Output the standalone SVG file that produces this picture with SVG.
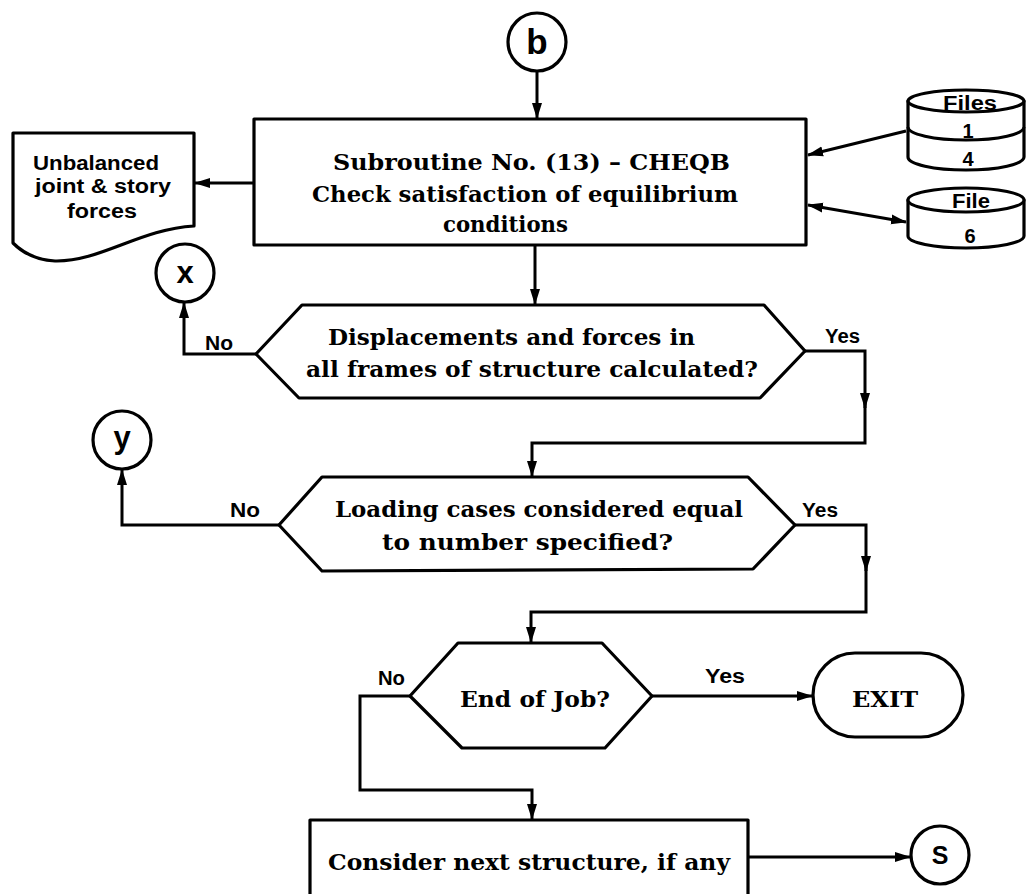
<svg xmlns="http://www.w3.org/2000/svg" width="1026" height="894" viewBox="0 0 1026 894">
<defs>
<style>
.shape{fill:#fff;stroke:#000;stroke-width:3.2;stroke-linejoin:round}
.line{fill:none;stroke:#000;stroke-width:3;stroke-linejoin:miter}
.t{font-family:"DejaVu Serif","Liberation Serif",serif;font-weight:bold;font-size:23px;fill:#000}
.s{font-family:"Liberation Sans","DejaVu Sans",sans-serif;font-weight:bold;font-size:20px;fill:#000}
.c{font-family:"Liberation Sans","DejaVu Sans",sans-serif;font-weight:bold;fill:#000;text-anchor:middle}
</style>
<marker id="ah" viewBox="0 0 16 12" refX="15" refY="6" markerWidth="16" markerHeight="12" markerUnits="userSpaceOnUse" orient="auto">
<path d="M0,1 L16,6 L0,11 Z" fill="#000"/>
</marker>
<marker id="ahs" viewBox="0 0 16 12" refX="1" refY="6" markerWidth="16" markerHeight="12" markerUnits="userSpaceOnUse" orient="auto">
<path d="M16,1 L0,6 L16,11 Z" fill="#000"/>
</marker>
</defs>
<rect width="1026" height="894" fill="#fff"/>

<g id="connectors">
<path class="line" d="M537,71 V118" marker-end="url(#ah)"/>
<path class="line" d="M254,183 H195" marker-end="url(#ah)"/>
<path class="line" d="M906,131 L808,155" marker-end="url(#ah)"/>
<path class="line" d="M808,205 L906,222" marker-start="url(#ahs)" marker-end="url(#ah)"/>
<path class="line" d="M535,245 V304" marker-end="url(#ah)"/>
<path class="line" d="M256,354 H184 V303" marker-end="url(#ah)"/>
<path class="line" d="M805,351 H865 V408" marker-end="url(#ah)"/>
<path class="line" d="M865,400 V443 H532 V476" marker-end="url(#ah)"/>
<path class="line" d="M279,525 H122 V470" marker-end="url(#ah)"/>
<path class="line" d="M795,525 H866 V571" marker-end="url(#ah)"/>
<path class="line" d="M866,563 V612 H531 V642" marker-end="url(#ah)"/>
<path class="line" d="M652,696 H812" marker-end="url(#ah)"/>
<path class="line" d="M410,696 H360 V790 H532 V819" marker-end="url(#ah)"/>
<path class="line" d="M748,857 H910" marker-end="url(#ah)"/>
</g>

<g id="b">
<circle class="shape" cx="537" cy="42" r="29"/>
<text class="c" x="537" y="54" font-size="35">b</text>
</g>

<g id="subroutine">
<rect class="shape" x="254" y="119" width="552" height="126"/>
<text class="t" x="333" y="170" textLength="397" lengthAdjust="spacingAndGlyphs">Subroutine No. (13) – CHEQB</text>
<text class="t" x="312" y="202" textLength="426" lengthAdjust="spacingAndGlyphs">Check satisfaction of equilibrium</text>
<text class="t" x="443" y="232" textLength="125" lengthAdjust="spacingAndGlyphs">conditions</text>
</g>

<g id="unbalanced">
<path class="shape" d="M13,133 H194 V226 C140,229 100,262 55,261 C35,260 22,252 13,243 Z"/>
<text class="s" x="33" y="170" font-size="21" textLength="126" lengthAdjust="spacingAndGlyphs">Unbalanced</text>
<text class="s" x="35" y="193" font-size="21" textLength="136" lengthAdjust="spacingAndGlyphs">joint &amp; story</text>
<text class="s" x="67" y="218" font-size="21" textLength="70" lengthAdjust="spacingAndGlyphs">forces</text>
</g>

<g id="files14">
<path class="shape" d="M908,101 V157 A58,13 0 0 0 1024,157 V101 Z"/>
<ellipse class="shape" cx="966" cy="101" rx="58" ry="11"/>
<path class="line" d="M908,127 A58,13 0 0 0 1024,127"/>
<text class="s" x="943" y="110" textLength="54" lengthAdjust="spacingAndGlyphs">Files</text>
<text class="c" x="968" y="138" font-size="20">1</text>
<text class="c" x="968" y="166" font-size="20">4</text>
</g>

<g id="file6">
<path class="shape" d="M908,200 V236 A58,12 0 0 0 1024,236 V200 Z"/>
<ellipse class="shape" cx="966" cy="200" rx="58" ry="12"/>
<text class="s" x="952" y="208" textLength="38" lengthAdjust="spacingAndGlyphs">File</text>
<text class="c" x="970" y="243" font-size="20">6</text>
</g>

<g id="x">
<circle class="shape" cx="185" cy="273" r="29"/>
<text class="c" x="185" y="283" font-size="31">x</text>
</g>

<g id="decision1">
<polygon class="shape" points="256,354 302,305 764,305 805,351 760,398 299,398"/>
<text class="t" x="328" y="345" textLength="367" lengthAdjust="spacingAndGlyphs">Displacements and forces in</text>
<text class="t" x="306" y="377" textLength="452" lengthAdjust="spacingAndGlyphs">all frames of structure calculated?</text>
<text class="s" x="205" y="350" textLength="28" lengthAdjust="spacingAndGlyphs">No</text>
<text class="s" x="825" y="343" textLength="35" lengthAdjust="spacingAndGlyphs">Yes</text>
</g>

<g id="y">
<circle class="shape" cx="122" cy="440" r="29"/>
<text class="c" x="122" y="448" font-size="31">y</text>
</g>

<g id="decision2">
<polygon class="shape" points="279,525 322,477 748,477 795,525 753,569 322,571"/>
<text class="t" x="335" y="517" textLength="408" lengthAdjust="spacingAndGlyphs">Loading cases considered equal</text>
<text class="t" x="382" y="550" textLength="291" lengthAdjust="spacingAndGlyphs">to number specified?</text>
<text class="s" x="230" y="517" textLength="30" lengthAdjust="spacingAndGlyphs">No</text>
<text class="s" x="802" y="517" textLength="36" lengthAdjust="spacingAndGlyphs">Yes</text>
</g>

<g id="decision3">
<polygon class="shape" points="410,696 458,643 602,643 652,696 605,748 462,748"/>
<text class="t" x="460" y="707" textLength="150" lengthAdjust="spacingAndGlyphs">End of Job?</text>
<text class="s" x="378" y="685" textLength="27" lengthAdjust="spacingAndGlyphs">No</text>
<text class="s" x="705" y="683" textLength="40" lengthAdjust="spacingAndGlyphs">Yes</text>
</g>

<g id="exit">
<rect class="shape" x="813" y="653" width="150" height="84" rx="42" ry="42"/>
<text class="t" x="852" y="707" textLength="66" lengthAdjust="spacingAndGlyphs">EXIT</text>
</g>

<g id="next">
<rect class="shape" x="310" y="820" width="438" height="80"/>
<text class="t" x="328" y="870" textLength="402" lengthAdjust="spacingAndGlyphs">Consider next structure, if any</text>
</g>

<g id="s">
<circle class="shape" cx="940" cy="855" r="29"/>
<text class="c" x="940" y="864" font-size="25">S</text>
</g>
</svg>
